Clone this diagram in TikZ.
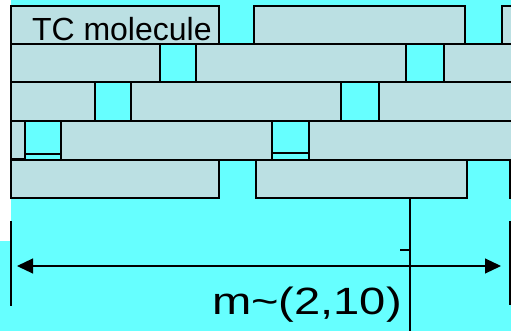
\documentclass[tikz,border=0pt]{standalone}
\usepackage{fontspec}
\setmainfont{Liberation Sans}
\usetikzlibrary{arrows.meta}
\definecolor{bgcyan}{HTML}{66FFFF}
\definecolor{tcfill}{HTML}{BBE0E3}
\tikzset{
  tcbox/.style={draw=black, fill=tcfill, line width=1.3pt, anchor=north west, inner sep=0pt, outer sep=0pt},
  dimline/.style={draw=black, line width=1.1pt},
  thickline/.style={draw=black, line width=2.6pt},
  capline/.style={draw=black, line width=2.2pt},
  lbl/.style={inner sep=0pt, outer sep=0pt, anchor=base west, text=black}
}
\begin{document}
\begin{tikzpicture}[x=1pt,y=-1pt]
\useasboundingbox (0,0) rectangle (511,331);
\clip (0,0) rectangle (511,331);
% background
\fill[white] (0,0) rectangle (11,241);
\fill[bgcyan] (11,0) rectangle (511,331);
\fill[bgcyan] (0,241) rectangle (11,331);
% row 1
\node[tcbox, minimum width=208pt, minimum height=38pt] (r1a) at (11,6) {};
\node[tcbox, minimum width=211pt, minimum height=38pt] (r1b) at (254,6) {};
\node[tcbox, minimum width=60pt, minimum height=38pt] (r1c) at (502,6) {};
% row 2
\node[tcbox, minimum width=149pt, minimum height=38pt] (r2a) at (11,44) {};
\node[tcbox, minimum width=210pt, minimum height=38pt] (r2b) at (196,44) {};
\node[tcbox, minimum width=120pt, minimum height=38pt] (r2c) at (444,44) {};
% row 3
\node[tcbox, minimum width=84pt, minimum height=39pt] (r3a) at (11,82) {};
\node[tcbox, minimum width=210pt, minimum height=39pt] (r3b) at (131,82) {};
\node[tcbox, minimum width=180pt, minimum height=39pt] (r3c) at (379,82) {};
% row 4
\node[tcbox, minimum width=14pt, minimum height=38pt] (r4a) at (11,121) {};
\node[tcbox, minimum width=211pt, minimum height=39pt] (r4b) at (61,121) {};
\node[tcbox, minimum width=250pt, minimum height=39pt] (r4c) at (309,121) {};
\coordinate (s1l) at (25,154); \coordinate (s1r) at (61,154);
\coordinate (s2l) at (272,153); \coordinate (s2r) at (309,153);
\draw[capline] (s1l) -- (s1r);
\draw[capline] (s2l) -- (s2r);
% row 5
\node[tcbox, minimum width=208pt, minimum height=38pt] (r5a) at (11,160) {};
\node[tcbox, minimum width=211pt, minimum height=38pt] (r5b) at (256,160) {};
\node[tcbox, minimum width=60pt, minimum height=38pt] (r5c) at (510,160) {};
% label in first box
\node[lbl, font=\fontsize{32}{38}\selectfont] (tc) at (32,41) {TC molecule};
% dimension
\coordinate (dlt) at (11,221); \coordinate (dlb) at (11,306);
\coordinate (drt) at (510,221); \coordinate (drb) at (510,305);
\draw[dimline] (dlt) -- (dlb);
\draw[dimline] (drt) -- (drb);
\coordinate (al) at (17,266); \coordinate (ar) at (501,266);
\draw[dimline, {Triangle[length=16pt,width=15pt]}-{Triangle[length=16pt,width=15pt]}] (al) -- (ar);
% thick marker
\coordinate (mt) at (410,198); \coordinate (mb) at (410,331);
\draw[thickline] (mt) -- (mb);
\coordinate (tk) at (400,250); \coordinate (tk2) at (410,250);
\draw[thickline] (tk) -- (tk2);
% label
\node[lbl, font=\fontsize{38}{44}\selectfont] (m) at (212,314) {\scalebox{1.24}[1]{m\textasciitilde(2,10)}};
\end{tikzpicture}
\end{document}
